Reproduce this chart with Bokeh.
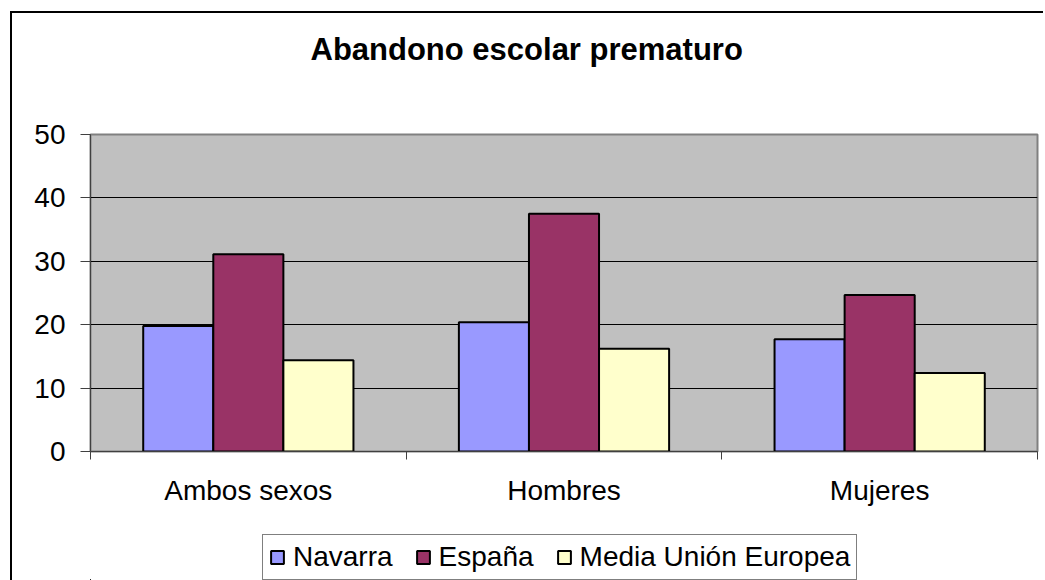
from bokeh.plotting import figure
from bokeh.layouts import column
from bokeh.models import Range1d, FixedTicker, Legend, LegendItem, Title
from bokeh.embed import file_html
from bokeh.resources import INLINE

categories = ["Ambos sexos", "Hombres", "Mujeres"]
series = ["Navarra", "España", "Media Unión Europea"]
navarra = [19.8, 20.4, 17.7]
espana = [31.1, 37.5, 24.7]
media_ue = [14.4, 16.2, 12.4]
colors = ["#9999FF", "#993366", "#FFFFCC"]
y_ticks = [0, 10, 20, 30, 40, 50]
title_text = "Abandono escolar prematuro"

FONT = "Liberation Sans"

p = figure(width=1031, height=517,
           x_range=Range1d(0, len(categories)), y_range=Range1d(0, 50),
           output_backend="svg", toolbar_location=None, title=None,
           min_border_left=78, min_border_right=6,
           min_border_top=121, min_border_bottom=79,
           background_fill_color="#C0C0C0", border_fill_color="white",
           outline_line_color="#808080", outline_line_width=2)

# spacer between plot area and title, then the title itself
p.add_layout(Title(text=" ", text_font_size="10px", standoff=55), "above")
p.add_layout(Title(text=title_text, text_font=FONT, text_font_size="31px",
                   text_font_style="bold", text_color="black",
                   align="left", offset=220, standoff=0), "above")

bar_w = 0.222
values = [navarra, espana, media_ue]


def bar_x(j):
    return [i + 0.5 + (j - 1) * bar_w for i in range(len(categories))]


for j, (vals, col) in enumerate(zip(values, colors)):
    p.vbar(x=bar_x(j), top=vals, bottom=0, width=bar_w, fill_color=col,
           line_color="black", line_width=2)

p.xgrid.grid_line_color = None
p.ygrid.grid_line_color = "black"
p.ygrid.grid_line_width = 1

# y axis
p.yaxis.ticker = FixedTicker(ticks=y_ticks)
p.yaxis.major_label_text_font = FONT
p.yaxis.major_label_text_font_size = "28px"
p.yaxis.major_label_text_color = "black"
p.yaxis.major_tick_out = 10
p.yaxis.major_tick_in = 0
p.yaxis.minor_tick_line_color = None
p.yaxis.major_label_standoff = 15
p.yaxis.axis_line_color = "#404040"
p.yaxis.major_tick_line_color = "#404040"

# x axis: labels at centers, ticks at category boundaries
p.xaxis.ticker = FixedTicker(ticks=[i + 0.5 for i in range(len(categories))],
                             minor_ticks=list(range(len(categories) + 1)))
p.xaxis.major_label_overrides = {i + 0.5: c for i, c in enumerate(categories)}
p.xaxis.major_label_text_font = FONT
p.xaxis.major_label_text_font_size = "28px"
p.xaxis.major_label_text_color = "black"
p.xaxis.major_tick_line_color = None
p.xaxis.major_tick_out = 0
p.xaxis.major_tick_in = 0
p.xaxis.minor_tick_out = 8
p.xaxis.minor_tick_in = 0
p.xaxis.minor_tick_line_color = "#404040"
p.xaxis.major_label_standoff = 15
p.xaxis.axis_line_color = "#404040"

# legend strip below the chart: same series, drawn outside its visible ranges
q = figure(width=1031, height=50, x_range=Range1d(100, 101),
           y_range=Range1d(100, 101),
           output_backend="svg", toolbar_location=None, title=None,
           x_axis_type=None, y_axis_type=None,
           min_border_left=0, min_border_right=0, min_border_top=0, min_border_bottom=0,
           outline_line_color=None, background_fill_color="white",
           border_fill_color="white")
q.xgrid.visible = False
q.ygrid.visible = False
legend_renderers = [q.vbar(x=bar_x(j), top=vals, bottom=0, width=bar_w, fill_color=col,
                           line_color="black", line_width=2)
                    for j, (vals, col) in enumerate(zip(values, colors))]

legend = Legend(items=[LegendItem(label=s, renderers=[r]) for s, r in zip(series, legend_renderers)],
                location=(172, 0), orientation="horizontal",
                label_text_font=FONT, label_text_font_size="28px",
                label_text_color="black",
                glyph_width=16, glyph_height=16, label_standoff=8, spacing=22,
                padding=6, margin=0, border_line_color="black",
                border_line_width=1, background_fill_color="white",
                background_fill_alpha=1)
q.add_layout(legend)

layout = column(p, q, spacing=0,
                styles={"margin-left": "10px", "margin-top": "11px",
                        "border-left": "2px solid black",
                        "border-top": "2px solid black"})

open("out.html", "w").write(file_html(layout, INLINE))
